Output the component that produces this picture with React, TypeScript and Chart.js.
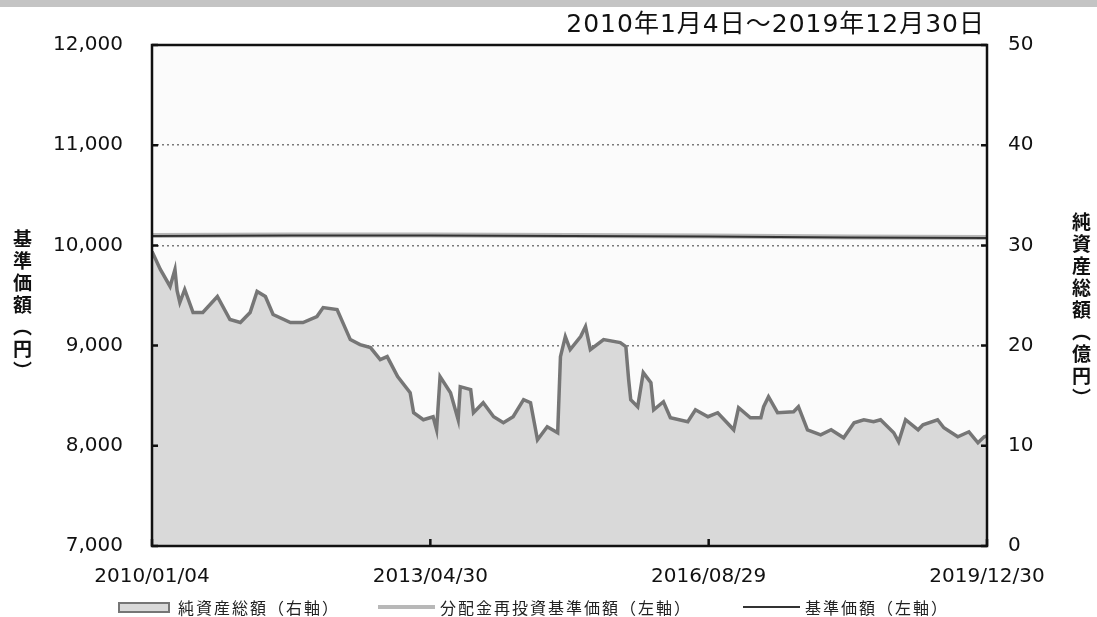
import React, { useEffect, useRef } from "react";
import { Chart, registerables } from "chart.js";

Chart.register(...registerables);

// x values: months elapsed since 2010/01/04 (period spans 120 months)
const xTickMonths = [0, 40, 80, 120];
const xTickLabels = ["2010/01/04", "2013/04/30", "2016/08/29", "2019/12/30"];

const leftTicks = [7000, 8000, 9000, 10000, 11000, 12000];
const rightTicks = [0, 10, 20, 30, 40, 50];

// 純資産総額（億円）
const netAssetMonths = [
  0, 1.2, 2.6, 3.3, 3.6, 4.0, 4.7, 5.9, 7.3, 9.4, 11.2, 12.7, 14.1, 15.1, 16.3, 17.4,
  19.9, 21.7, 23.7, 24.6, 26.6, 28.5, 29.9, 31.4, 32.8, 33.8, 35.3, 37.1, 37.6, 39.0,
  40.4, 40.9, 41.4, 42.9, 44.0, 44.3, 45.8, 46.2, 47.6, 49.1, 50.5, 51.9, 53.4, 54.4,
  55.4, 56.8, 58.3, 58.7, 59.4, 60.1, 61.6, 62.3, 63.0, 64.9, 67.3, 68.1, 68.5, 68.8,
  69.8, 70.6, 71.7, 72.1, 73.5, 74.5, 77.0, 78.1, 79.9, 81.3, 83.6, 84.3, 86.0, 87.5,
  87.9, 88.6, 89.9, 92.2, 92.9, 94.2, 96.1, 97.6, 99.4, 100.9, 102.3, 103.7, 104.7,
  106.6, 107.3, 108.3, 110.1, 110.8, 112.9, 113.8, 115.8, 117.4, 118.7, 119.6, 120,
];
const netAssetValues = [
  29.4, 27.6, 25.9, 27.6, 25.5, 24.3, 25.6, 23.3, 23.3, 24.9, 22.6, 22.3, 23.3, 25.4, 24.9, 23.1,
  22.3, 22.3, 22.9, 23.8, 23.6, 20.6, 20.1, 19.8, 18.6, 18.9, 16.9, 15.3, 13.3, 12.6,
  12.9, 11.6, 16.9, 15.3, 12.6, 15.9, 15.6, 13.3, 14.3, 12.9, 12.3, 12.9, 14.6, 14.3,
  10.6, 11.9, 11.3, 18.9, 20.9, 19.6, 20.9, 21.9, 19.6, 20.6, 20.3, 19.9, 16.6, 14.6,
  13.9, 17.3, 16.3, 13.6, 14.4, 12.8, 12.4, 13.6, 12.9, 13.3, 11.6, 13.8, 12.8, 12.8,
  13.9, 14.9, 13.3, 13.4, 13.9, 11.6, 11.1, 11.6, 10.8, 12.3, 12.6, 12.4, 12.6,
  11.3, 10.4, 12.6, 11.6, 12.1, 12.6, 11.8, 10.9, 11.4, 10.3, 10.9, 11.0,
];

// 分配金再投資基準価額 / 基準価額（円）
const priceMonths = [0, 20, 40, 60, 80, 100, 120];
const reinvestPrice = [10100, 10105, 10105, 10100, 10095, 10085, 10080];
const basePrice = [10095, 10100, 10100, 10095, 10090, 10080, 10075];

const pairs = (xs: number[], ys: number[]) => xs.map((x, i) => ({ x, y: ys[i] }));

const W = 1097;
const H = 617;

const frame = {
  id: "frame",
  beforeDraw(chart: any) {
    const { ctx, chartArea: a } = chart;
    ctx.save();
    ctx.fillStyle = "#fbfbfb";
    ctx.fillRect(a.left, a.top, a.right - a.left, a.bottom - a.top);
    ctx.restore();
  },
  afterDraw(chart: any) {
    const { ctx, chartArea: a, scales } = chart;
    ctx.save();
    ctx.strokeStyle = "#111";
    ctx.lineWidth = 2.5;
    ctx.strokeRect(a.left, a.top, a.right - a.left, a.bottom - a.top);
    ctx.beginPath();
    leftTicks.forEach((v) => {
      const y = scales.y.getPixelForValue(v);
      ctx.moveTo(a.left, y);
      ctx.lineTo(a.left + 6, y);
    });
    rightTicks.forEach((v) => {
      const y = scales.y1.getPixelForValue(v);
      ctx.moveTo(a.right, y);
      ctx.lineTo(a.right - 6, y);
    });
    xTickMonths.forEach((v) => {
      const x = scales.x.getPixelForValue(v);
      ctx.moveTo(x, a.bottom);
      ctx.lineTo(x, a.bottom - 7);
    });
    ctx.stroke();
    ctx.restore();
  },
};

export default function App() {
  const ref = useRef<HTMLCanvasElement>(null);

  useEffect(() => {
    document.body.style.margin = "0";
    const canvas = ref.current!;
    Chart.defaults.font.family = "'DejaVu Sans', sans-serif";
    const chart = new Chart(canvas, {
      type: "line",
      data: {
        datasets: [
          {
            label: "基準価額（左軸）",
            data: pairs(priceMonths, basePrice),
            yAxisID: "y",
            borderColor: "#333",
            borderWidth: 2,
            pointRadius: 0,
            fill: false,
            order: 1,
          },
          {
            label: "分配金再投資基準価額（左軸）",
            data: pairs(priceMonths, reinvestPrice),
            yAxisID: "y",
            borderColor: "#b8b8b8",
            borderWidth: 5,
            pointRadius: 0,
            fill: false,
            order: 2,
          },
          {
            label: "純資産総額（右軸）",
            data: pairs(netAssetMonths, netAssetValues),
            yAxisID: "y1",
            borderColor: "#767676",
            backgroundColor: "#d9d9d9",
            borderWidth: 3.5,
            pointRadius: 0,
            fill: "origin",
            tension: 0,
            order: 3,
          },
        ],
      },
      options: {
        responsive: false,
        animation: false,
        layout: { padding: { top: 45, left: 0, right: 0, bottom: 0 } },
        plugins: { legend: { display: false }, tooltip: { enabled: false }, title: { display: false } },
        scales: {
          x: {
            type: "linear",
            min: 0,
            max: 120,
            afterFit: (s: any) => {
              s.height = 71;
            },
            afterBuildTicks: (s: any) => {
              s.ticks = xTickMonths.map((v) => ({ value: v }));
            },
            ticks: {
              autoSkip: false,
              maxRotation: 0,
              padding: 19,
              color: "#111",
              font: { size: 20 },
              callback: (v: any) => {
                const i = xTickMonths.indexOf(Number(v));
                return i >= 0 ? xTickLabels[i] : "";
              },
            },
            grid: { display: false, drawTicks: false },
            border: { display: false },
          },
          y: {
            position: "left",
            min: 7000,
            max: 12000,
            afterFit: (s: any) => {
              s.width = 152;
            },
            afterBuildTicks: (s: any) => {
              s.ticks = leftTicks.map((v) => ({ value: v }));
            },
            ticks: {
              padding: 29,
              color: "#111",
              font: { size: 20 },
              callback: (v: any) => Number(v).toLocaleString("en-US"),
            },
            grid: { color: "#7a7a7a", lineWidth: 1.5, drawTicks: false },
            border: { display: false, dash: [2, 3] },
          },
          y1: {
            position: "right",
            min: 0,
            max: 50,
            afterFit: (s: any) => {
              s.width = 110;
            },
            afterBuildTicks: (s: any) => {
              s.ticks = rightTicks.map((v) => ({ value: v }));
            },
            ticks: {
              padding: 21,
              color: "#111",
              font: { size: 20 },
            },
            grid: { drawOnChartArea: false, drawTicks: false },
            border: { display: false },
          },
        },
      },
      plugins: [frame],
    } as any);
    return () => chart.destroy();
  }, []);

  const cjk = "'Noto Sans CJK JP', sans-serif";
  const legendText: React.CSSProperties = {
    position: "absolute",
    top: 596,
    fontFamily: cjk,
    fontSize: 16,
    lineHeight: "22px",
    letterSpacing: 2,
    color: "#222",
    whiteSpace: "nowrap",
  };
  const vTitle: React.CSSProperties = {
    position: "absolute",
    writingMode: "vertical-rl",
    fontFamily: cjk,
    fontSize: 19,
    lineHeight: "22px",
    letterSpacing: 3,
    color: "#111",
    fontWeight: 700,
  };

  return (
    <div style={{ position: "relative", width: W, height: H, background: "#fff", overflow: "hidden" }}>
      <div style={{ position: "absolute", left: 0, top: 0, width: W, height: 7, background: "#c4c4c4" }} />
      <canvas ref={ref} width={W} height={H} style={{ display: "block", width: W, height: H }} />
      <div
        style={{
          position: "absolute",
          right: 1097 - 985,
          top: 6,
          fontFamily: "'DejaVu Sans', 'Noto Sans CJK JP', sans-serif",
          fontSize: 25,
          lineHeight: "36px",
          letterSpacing: 1,
          color: "#111",
          whiteSpace: "nowrap",
        }}
      >
        2010年1月4日～2019年12月30日
      </div>
      <div style={{ ...vTitle, left: 11, top: 229 }}>基準価額（円）</div>
      <div style={{ ...vTitle, left: 1070, top: 212 }}>純資産総額（億円）</div>

      <div
        style={{
          position: "absolute",
          left: 118,
          top: 602,
          width: 52,
          height: 11,
          boxSizing: "border-box",
          background: "#d9d9d9",
          border: "2px solid #767676",
        }}
      />
      <div style={{ ...legendText, left: 178 }}>純資産総額（右軸）</div>
      <div style={{ position: "absolute", left: 378, top: 605, width: 57, height: 4, background: "#b8b8b8" }} />
      <div style={{ ...legendText, left: 440 }}>分配金再投資基準価額（左軸）</div>
      <div style={{ position: "absolute", left: 743, top: 606, width: 57, height: 2, background: "#333" }} />
      <div style={{ ...legendText, left: 805 }}>基準価額（左軸）</div>
    </div>
  );
}
